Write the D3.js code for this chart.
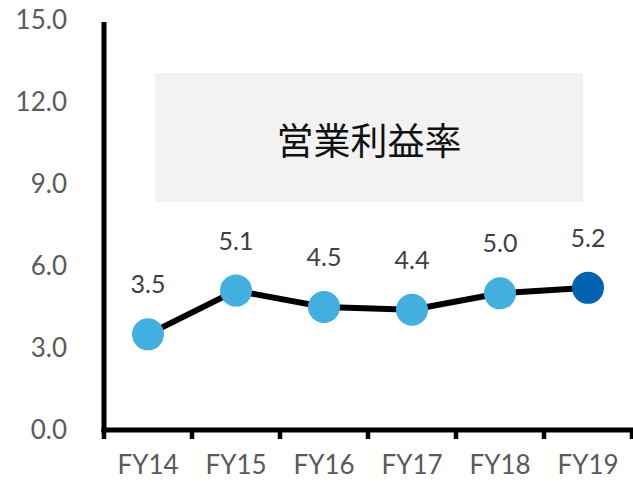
<!DOCTYPE html>
<html>
<head>
<meta charset="utf-8">
<script src="https://cdn.jsdelivr.net/npm/d3@7"></script>
<style>
  html, body { margin: 0; padding: 0; background: #fff; }
  svg { display: block; }
</style>
</head>
<body>
<svg id="chart" width="633" height="485"></svg>
<script>
// Operating margin by fiscal year (%)
const categories = ["FY14", "FY15", "FY16", "FY17", "FY18", "FY19"];
const margins = [3.5, 5.1, 4.5, 4.4, 5.0, 5.2];
const yTicks = [0, 3, 6, 9, 12, 15];
const title = "営業利益率";

const svg = d3.select("#chart");
const plotLeft = 104, plotRight = 632, plotTop = 20, plotBottom = 430;

const x = d3.scaleBand().domain(categories).range([plotLeft, plotRight]).padding(0);
const y = d3.scaleLinear().domain([0, 15]).range([plotBottom, plotTop]);

const latin = "Lato, 'Noto Sans', sans-serif";

// title panel
svg.append("rect")
  .attr("x", 155).attr("y", 73)
  .attr("width", 428).attr("height", 129)
  .attr("fill", "#f2f2f2");
svg.append("text")
  .attr("x", 369).attr("y", 139)
  .attr("text-anchor", "middle")
  .attr("dominant-baseline", "central")
  .attr("font-family", "'Noto Sans CJK JP', sans-serif")
  .attr("font-size", 37)
  .attr("fill", "#111")
  .text(title);

// y axis
const yAxis = svg.append("g")
  .attr("transform", `translate(${plotLeft},0)`)
  .call(d3.axisLeft(y).tickValues(yTicks).tickSize(0).tickPadding(37).tickFormat(d3.format(".1f")));
yAxis.select(".domain").remove();
yAxis.selectAll("text")
  .attr("font-family", latin)
  .attr("font-size", 26)
  .attr("fill", "#5a5a5a");
svg.append("line")
  .attr("x1", plotLeft).attr("x2", plotLeft)
  .attr("y1", y(15) + 2).attr("y2", plotBottom + 2.5)
  .attr("stroke", "#000").attr("stroke-width", 5);

// x axis
const xAxis = svg.append("g")
  .attr("transform", `translate(0,${plotBottom})`)
  .call(d3.axisBottom(x).tickSize(0).tickPadding(26));
xAxis.select(".domain").remove();
xAxis.selectAll("text")
  .attr("font-family", latin)
  .attr("font-size", 26)
  .attr("fill", "#5a5a5a");
svg.append("line")
  .attr("x1", plotLeft - 2.5).attr("x2", plotRight + 2)
  .attr("y1", plotBottom).attr("y2", plotBottom)
  .attr("stroke", "#000").attr("stroke-width", 5);
const boundaries = categories.map(c => x(c)).concat([x(categories[categories.length - 1]) + x.bandwidth()]);
svg.append("g").selectAll("line")
  .data(boundaries)
  .join("line")
  .attr("x1", d => d).attr("x2", d => d)
  .attr("y1", plotBottom).attr("y2", plotBottom + 9)
  .attr("stroke", "#000").attr("stroke-width", 4.5);

// line
const cx = d => x(d) + x.bandwidth() / 2;
const data = categories.map((c, i) => ({ c, v: margins[i] }));
svg.append("path")
  .datum(data)
  .attr("fill", "none")
  .attr("stroke", "#000")
  .attr("stroke-width", 6)
  .attr("d", d3.line().x(d => cx(d.c)).y(d => y(d.v)));

// points
svg.append("g").selectAll("circle")
  .data(data)
  .join("circle")
  .attr("cx", d => cx(d.c))
  .attr("cy", d => y(d.v))
  .attr("r", 16)
  .attr("fill", (d, i) => i === data.length - 1 ? "#0063b0" : "#41b0e0");

// value labels
svg.append("g").selectAll("text")
  .data(data)
  .join("text")
  .attr("x", d => cx(d.c))
  .attr("y", d => y(d.v) - 41)
  .attr("text-anchor", "middle")
  .attr("font-family", latin)
  .attr("font-size", 25)
  .attr("fill", "#404040")
  .text(d => d.v.toFixed(1));
</script>
</body>
</html>
